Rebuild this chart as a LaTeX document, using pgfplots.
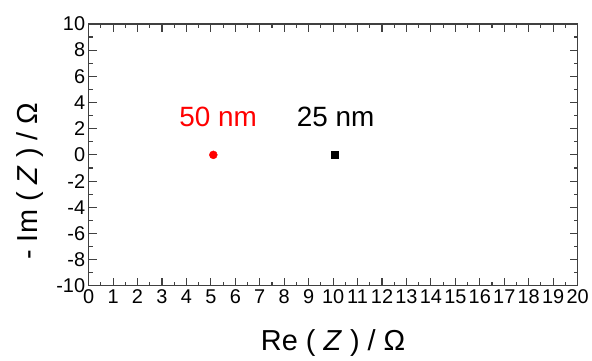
\documentclass[border=0pt]{standalone}
\usepackage{pgfplots}
\pgfplotsset{compat=1.18}
\usepackage{fontspec}
\setmainfont{Liberation Sans}
\begin{document}
\begin{tikzpicture}
\begin{axis}[
  scale only axis, width=491pt, height=263pt,
  xmin=0, xmax=20, ymin=-10, ymax=10,
  xtick={0,...,20}, ytick={-10,-8,...,10},
  minor x tick num=1, minor y tick num=1,
  tick align=inside,
  major tick length=8pt, minor tick length=4pt,
  axis line style={line width=1.3pt, color=black!75},
  every tick/.style={line width=1.1pt, black!75},
  tick label style={font=\fontsize{20}{20}\selectfont},
  /pgf/number format/assume math mode=true,
  xlabel={Re ( \textit{Z} ) / Ω},
  ylabel={- Im ( \textit{Z} ) / Ω},
  label style={font=\fontsize{29}{29}\selectfont},
  x label style={at={(axis description cs:0.5,-0.22)}, anchor=center},
  y label style={at={(axis description cs:-0.12,0.4)}, anchor=center},
]
\addplot[only marks, mark=*, red, mark size=4pt] coordinates {(5.1,0)};
\addplot[only marks, mark=square*, black, mark size=3.5pt] coordinates {(10.05,0)};
\node[red, font=\fontsize{28}{28}\selectfont] at (axis cs:5.3,2.9) {50 nm};
\node[black, font=\fontsize{28}{28}\selectfont] at (axis cs:10.1,2.9) {25 nm};
\end{axis}
\path (current axis.south west) ++(-89pt,-73pt) rectangle ++(592pt,360pt);
\end{tikzpicture}
\end{document}
